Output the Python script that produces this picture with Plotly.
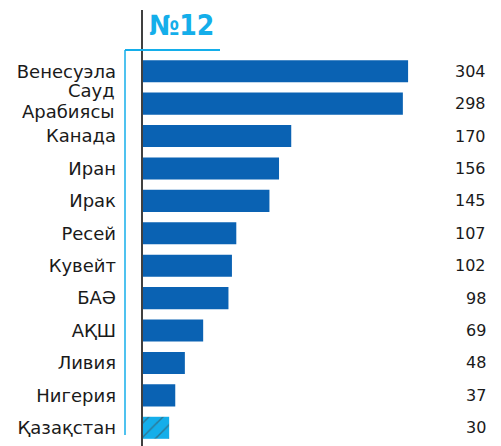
import plotly.graph_objects as go

countries = ["Венесуэла", "Сауд Арабиясы", "Канада", "Иран", "Ирак", "Ресей",
             "Кувейт", "БАӘ", "АҚШ", "Ливия", "Нигерия", "Қазақстан"]
values = [304, 298, 170, 156, 145, 107, 102, 98, 69, 48, 37, 30]
title_text = "№12"

dark = "#0a62b3"
light = "#14aeea"

OFF = 8  # browser default body margin
W, H = 501 - OFF, 446 - OFF
L, R, T, B = 143 - OFF, 11, 55 - OFF, 2
pw = W - L - R
ph = H - T - B

colors = [dark] * (len(values) - 1) + [light]
shapes_pat = [""] * (len(values) - 1) + ["/"]

fig = go.Figure(go.Bar(
    x=values, y=countries, orientation="h",
    marker=dict(color=colors, line=dict(width=0),
                pattern=dict(shape=shapes_pat, fgcolor="white", bgcolor=light,
                             size=10, solidity=0.15)),
    width=0.68,
))


def px_x(p):
    return (p - OFF - L) / pw


def px_y(p):
    return (H - B - (p - OFF)) / ph


label_font = dict(size=18, color="#1a1a1a", family="DejaVu Sans")

for c, v in zip(countries, values):
    fig.add_annotation(x=px_x(488), xref="paper", y=c, yref="y",
                       text=str(v), showarrow=False, xanchor="right",
                       font=dict(size=16, color="#1a1a1a", family="DejaVu Sans"))

# two-line label drawn as separate lines for tighter spacing
two_line = countries[1]
first, second = two_line.split(" ")
fig.add_annotation(x=px_x(117), xref="paper", y=two_line, yref="y",
                   text=first, showarrow=False, xanchor="right", yshift=13,
                   font=label_font)
fig.add_annotation(x=px_x(117), xref="paper", y=two_line, yref="y",
                   text=second, showarrow=False, xanchor="right", yshift=-8,
                   font=label_font)

fig.add_shape(type="line", xref="paper", yref="paper",
              x0=px_x(142), x1=px_x(142), y0=px_y(446), y1=px_y(10),
              line=dict(color="black", width=1.5))
fig.add_shape(type="line", xref="paper", yref="paper",
              x0=px_x(125), x1=px_x(125), y0=px_y(435), y1=px_y(50),
              line=dict(color=light, width=1.5))
fig.add_shape(type="line", xref="paper", yref="paper",
              x0=px_x(125), x1=px_x(220), y0=px_y(50), y1=px_y(50),
              line=dict(color=light, width=2))

fig.add_annotation(x=px_x(148), xref="paper", y=px_y(8), yref="paper",
                   text="<b>" + title_text + "</b>", showarrow=False,
                   xanchor="left", yanchor="top", borderpad=0,
                   font=dict(size=28, color=light,
                             family="DejaVu Sans Condensed, Liberation Sans Narrow, sans-serif"))

ticktext = ["" if c == two_line else c for c in countries]

fig.update_layout(
    width=W, height=H,
    margin=dict(l=L, r=R, t=T, b=B, autoexpand=False),
    paper_bgcolor="white", plot_bgcolor="white",
    showlegend=False,
    xaxis=dict(range=[0, pw / 0.872], visible=False, fixedrange=True,
               automargin=False),
    yaxis=dict(autorange="reversed", showgrid=False, zeroline=False,
               showline=False, ticks="", ticklabelstandoff=26, automargin=False,
               tickmode="array", tickvals=countries, ticktext=ticktext,
               tickfont=label_font),
    bargap=0.32,
)

fig.write_html("out.html")
